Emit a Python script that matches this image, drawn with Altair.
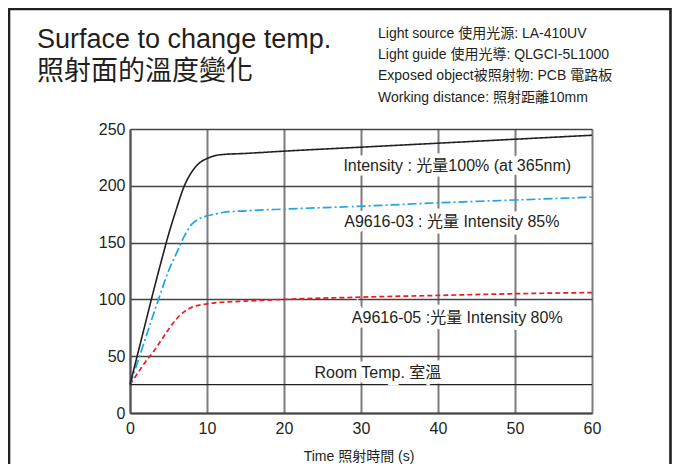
import altair as alt
import pandas as pd

# ---- data ----
time_s = [0, 1, 2, 3, 4, 5, 6, 7, 8, 9, 10, 11, 12, 15, 20, 30, 40, 50, 60]
full_100 = [25, 52, 79, 106, 132, 157, 179, 199, 212, 220, 224, 226.5, 227.5, 228.5, 230.5, 234, 237.5, 241, 244.5]
a9616_03 = [25, 45, 65.5, 86, 106, 125, 140, 155, 166, 171, 173.5, 175, 176.5, 178, 179.5, 182, 185, 187.5, 190]
a9616_05 = [25, 35, 45, 53.5, 63.5, 73.5, 82.5, 89, 93, 95, 96, 97, 97.5, 98.5, 100, 102, 103.5, 105, 106]
series_names = ["Intensity 100%", "A9616-03", "A9616-05"]

room_temp = [25]

label_texts = ["Intensity : 光量100% (at 365nm)", "A9616-03 : 光量 Intensity 85%",
               "A9616-05 :光量 Intensity 80%", "Room Temp. 室溫"]
label_t = [42.5, 41.8, 42.5, 32.2]
label_v = [217.5, 168, 83.5, 35]

x_ticks = [0, 10, 20, 30, 40, 50, 60]
y_ticks = [0, 50, 100, 150, 200, 250]

title_lines = ["Surface to change temp.", "照射面的溫度變化"]
info_lines = ["Light source 使用光源: LA-410UV",
              "Light guide 使用光導: QLGCI-5L1000",
              "Exposed object被照射物: PCB 電路板",
              "Working distance: 照射距離10mm"]
x_title = "Time 照射時間 (s)"

# ---- build tables ----
rows = []
for name, vals in zip(series_names, [full_100, a9616_03, a9616_05]):
    for t, v in zip(time_s, vals):
        rows.append({"t": t, "v": v, "s": name})
df = pd.DataFrame(rows)
lab = pd.DataFrame({"t": label_t, "v": label_v, "label": label_texts})
rt = pd.DataFrame({"v": room_temp})

FONT = "Liberation Sans, Noto Sans CJK TC"
NARROW = "Liberation Sans Narrow, Liberation Sans, Noto Sans CJK TC"
INK = "#231f20"
W, H = 462, 284

xs = alt.Scale(domain=[0, 60], nice=False)
ys = alt.Scale(domain=[0, 250], nice=False)

x_axis = alt.Axis(values=x_ticks, title=None, ticks=False, labelPadding=7,
                  labelFontSize=16, labelFont=FONT, labelColor=INK,
                  grid=True, gridColor="#7d7d7d", gridWidth=2,
                  domainColor="#444444", domainWidth=2, labelFlush=False)
y_axis = alt.Axis(values=y_ticks, title=None, ticks=False, labelPadding=5,
                  labelFontSize=16, labelFont=FONT, labelColor=INK,
                  grid=True, gridColor="#444444", gridWidth=1.5,
                  domainColor="#555555", domainWidth=2)

base = alt.Chart(df)

def series_line(name, color, dash, width):
    return base.transform_filter(alt.datum.s == name).mark_line(
        color=color, strokeDash=dash, strokeWidth=width, interpolate="monotone"
    ).encode(x=alt.X("t:Q", scale=xs, axis=x_axis), y=alt.Y("v:Q", scale=ys, axis=y_axis))

grid_layer = base.mark_point(opacity=0).encode(
    x=alt.X("t:Q", scale=xs, axis=x_axis), y=alt.Y("v:Q", scale=ys, axis=y_axis))

room_rule = alt.Chart(rt).mark_rule(color=INK, strokeWidth=1.4).encode(
    y=alt.Y("v:Q", scale=ys))

black = series_line(series_names[0], INK, [1, 0], 1.6)
cyan = series_line(series_names[1], "#1ea5e3", [9, 3, 2, 3], 1.7)
red = series_line(series_names[2], "#ec1c24", [5, 3], 1.7)

halo = alt.Chart(lab).mark_text(font=FONT, fontSize=16, stroke="white", strokeWidth=9,
                                fill="white", align="center", baseline="middle").encode(
    x=alt.X("t:Q", scale=xs), y=alt.Y("v:Q", scale=ys), text="label:N")
labels = alt.Chart(lab).mark_text(font=FONT, fontSize=16, color=INK,
                                  align="center", baseline="middle").encode(
    x=alt.X("t:Q", scale=xs), y=alt.Y("v:Q", scale=ys), text="label:N")

one = alt.Data(values=[{"k": 1}])
frame = alt.Chart(one).mark_rect(fill=None, stroke=INK, strokeWidth=2.6).encode(
    x=alt.value(-121), x2=alt.value(540.5), y=alt.value(-120), y2=alt.value(400))
title_txt = alt.Chart(one).mark_text(font=FONT, fontSize=27, color=INK, align="left",
                                     baseline="alphabetic", lineHeight=32).encode(
    x=alt.value(-93), y=alt.value(-81), text=alt.value(title_lines))
info_txt = alt.Chart(one).mark_text(font=NARROW, fontSize=14, color=INK, align="left",
                                    baseline="alphabetic", lineHeight=21.2).encode(
    x=alt.value(248), y=alt.value(-91), text=alt.value(info_lines))
xtitle_txt = alt.Chart(one).mark_text(font=FONT, fontSize=14, color=INK, align="center",
                                      baseline="middle").encode(
    x=alt.value(229), y=alt.value(328), text=alt.value(x_title))

chart = alt.layer(grid_layer, room_rule, red, cyan, black, halo, labels,
                  frame, title_txt, info_txt, xtitle_txt).properties(
    width=W, height=H,
    autosize=alt.AutoSizeParams(type="none"),
    padding={"left": 122, "top": 121, "right": 80, "bottom": 51},
).configure_view(stroke=None).configure(background="white")

chart.save("out.html", embed_options={"renderer": "svg", "actions": False})
